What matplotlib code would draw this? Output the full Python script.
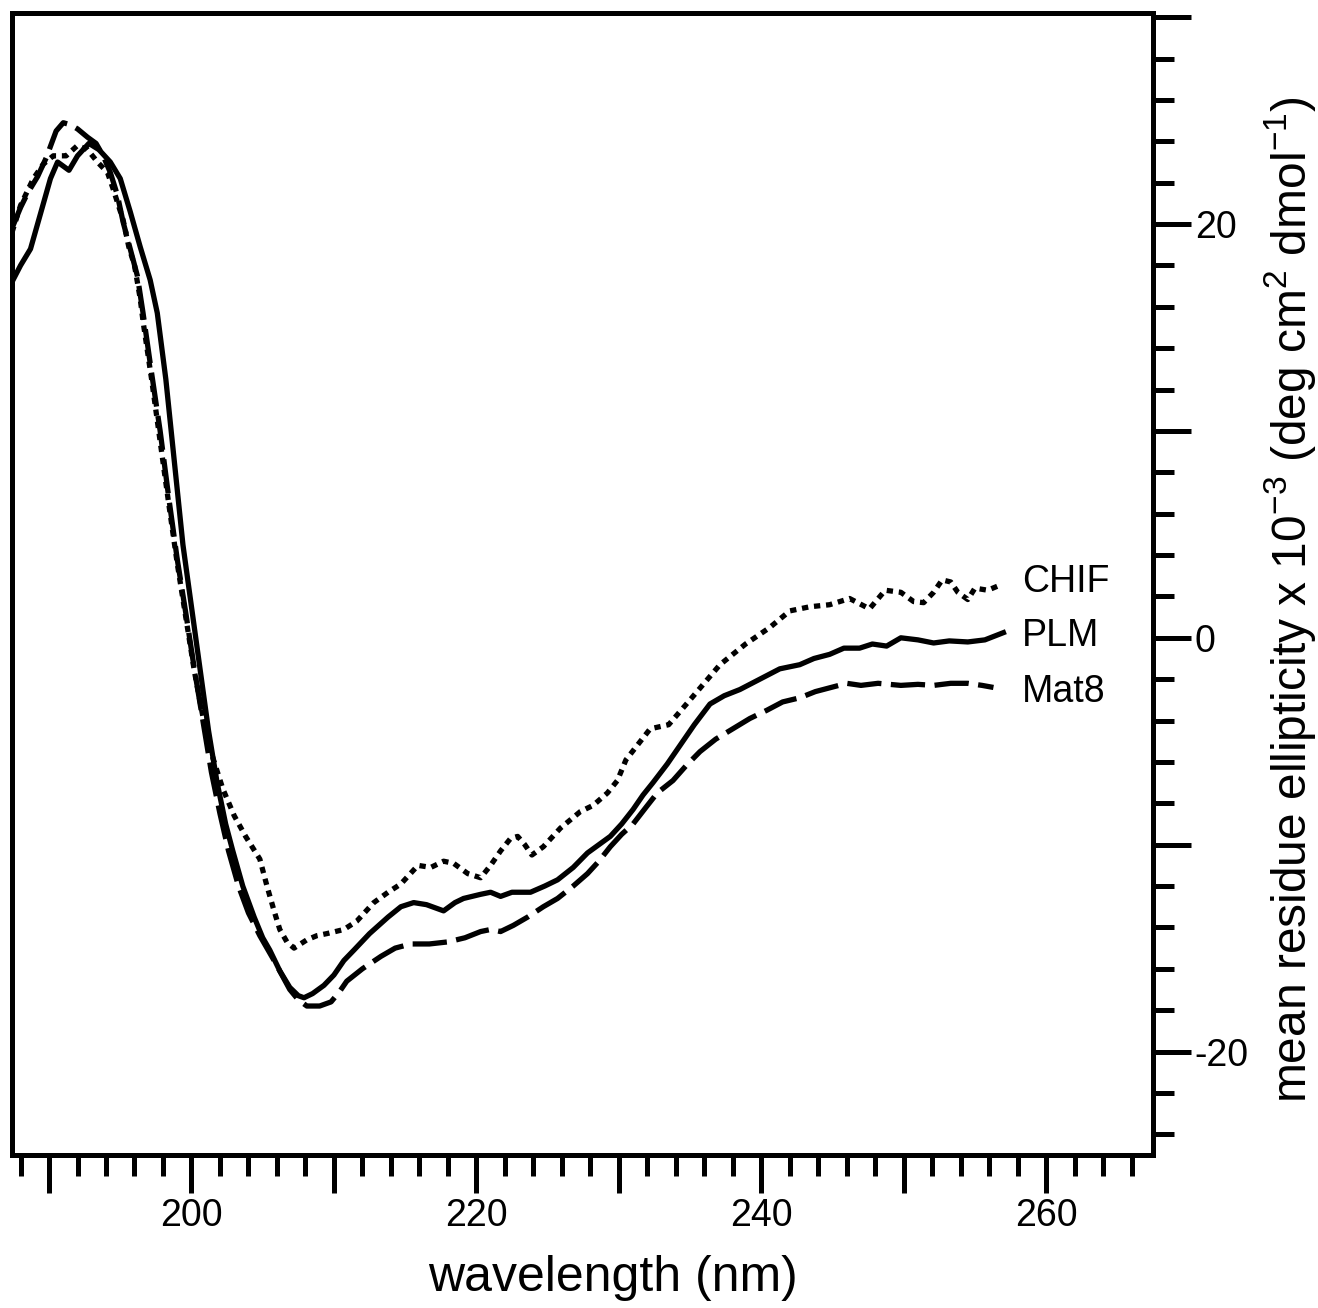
import matplotlib.pyplot as plt
from matplotlib.ticker import MultipleLocator, FuncFormatter
import numpy as np

plt.rcParams['font.family'] = ['Liberation Sans', 'DejaVu Sans']
plt.rcParams['mathtext.fontset'] = 'custom'
plt.rcParams['mathtext.rm'] = 'Liberation Sans'

# ---------- data (x1e-3 deg cm2 dmol-1) ----------
plm_wl = [187.4, 188.0, 188.7, 189.4, 190.1, 190.6, 191.0, 191.4, 192.0, 192.8,
          193.5, 194.3, 195.0, 195.7, 196.4, 197.1, 197.6, 198.2, 198.8, 199.4,
          200.0, 200.6, 201.2, 201.8, 202.4, 202.9, 203.6, 204.4, 205.0, 205.5,
          206.2, 206.9, 207.5, 207.9, 208.5, 209.3, 210.0, 210.7, 211.4, 212.5,
          213.8, 214.7, 215.6, 216.5, 217.7, 218.5, 219.1, 220.3, 221.0, 221.7,
          222.5, 223.8, 224.8, 225.7, 226.8, 227.8, 228.6, 229.4, 230.2, 231.0,
          231.7, 232.4, 233.4, 234.3, 235.3, 236.4, 237.4, 238.5, 239.9, 241.3,
          242.7, 243.7, 244.8, 245.8, 246.9, 247.8, 248.8, 249.8, 251.0, 252.1,
          253.2, 254.5, 255.7, 257.0]
plm = [17.2, 18.0, 18.8, 20.5, 22.2, 23.0, 22.8, 22.6, 23.3, 23.9,
       23.6, 23.0, 22.2, 20.6, 18.9, 17.3, 15.7, 12.5, 8.5, 4.5,
       1.5, -1.5, -4.5, -7.0, -9.0, -10.3, -12.0, -13.5, -14.5, -15.1,
       -16.1, -16.9, -17.3, -17.4, -17.2, -16.8, -16.3, -15.6, -15.1, -14.3,
       -13.5, -13.0, -12.8, -12.9, -13.2, -12.8, -12.6, -12.4, -12.3, -12.5,
       -12.3, -12.3, -12.0, -11.7, -11.1, -10.4, -10.0, -9.6, -9.0, -8.3,
       -7.6, -7.0, -6.1, -5.2, -4.2, -3.2, -2.8, -2.5, -2.0, -1.5,
       -1.3, -1.0, -0.8, -0.5, -0.5, -0.3, -0.4, 0.0, -0.1, -0.25,
       -0.15, -0.2, -0.1, 0.25]

mat8_wl = [187.4, 188.0, 188.5, 189.2, 189.8, 190.5, 191.0, 191.5, 192.0, 192.7,
           193.3, 193.8, 194.3, 194.8, 195.2, 195.7, 196.2, 196.6, 197.2, 197.8,
           198.4, 199.0, 199.6, 200.2, 200.8, 201.4, 202.0, 202.6, 203.3, 204.0,
           204.8, 205.8, 206.9, 207.5, 208.1, 209.0, 209.8, 210.4, 210.9, 212.0,
           213.3, 214.3, 215.4, 216.7, 218.0, 219.2, 220.3, 221.0, 221.7, 222.6,
           223.6, 224.7, 225.7, 226.8, 227.8, 228.6, 229.4, 230.2, 231.0, 231.9,
           232.7, 233.8, 234.7, 235.7, 236.8, 238.0, 239.2, 240.4, 241.5, 242.7,
           243.8, 244.9, 246.0, 247.0, 248.2, 249.8, 251.0, 252.1, 253.3, 254.5,
           255.5, 256.3]
mat8 = [19.8, 20.8, 21.5, 22.3, 23.2, 24.5, 24.9, 24.8, 24.6, 24.2,
        23.9, 23.3, 22.5, 21.4, 20.1, 18.8, 17.5, 15.7, 12.8, 10.0,
        6.8, 3.8, 1.2, -1.5, -4.0, -6.5, -8.5, -10.3, -12.0, -13.3,
        -14.4, -15.6, -17.0, -17.5, -17.8, -17.8, -17.6, -17.1, -16.6, -16.0,
        -15.4, -15.0, -14.8, -14.8, -14.7, -14.5, -14.2, -14.1, -14.2, -13.9,
        -13.5, -13.0, -12.6, -12.0, -11.4, -10.8, -10.1, -9.5, -9.0, -8.2,
        -7.5, -6.9, -6.2, -5.5, -4.9, -4.4, -3.9, -3.5, -3.1, -2.9,
        -2.6, -2.4, -2.2, -2.3, -2.2, -2.3, -2.25, -2.3, -2.2, -2.2,
        -2.3, -2.4]

chif_wl = [187.4, 188.0, 188.9, 189.6, 190.3, 191.2, 192.0, 192.7, 193.4, 194.1,
           194.5, 195.2, 195.6, 196.0, 196.4, 196.6, 197.2, 197.8, 198.4, 199.0,
           199.6, 200.2, 200.8, 201.5, 202.2, 203.0, 203.8, 204.8, 205.3, 205.8,
           206.2, 206.7, 207.2, 208.1, 208.8, 209.5, 210.7, 211.6, 212.8, 213.8,
           214.7, 215.9, 216.8, 217.7, 218.4, 219.4, 220.3, 221.0, 221.7, 222.4,
           222.9, 223.4, 223.9, 224.7, 225.9, 227.3, 228.2, 229.2, 229.9, 230.5,
           232.2, 233.5, 235.0, 237.1, 238.9, 240.6, 242.0, 243.4, 244.8, 246.2,
           247.6, 248.7, 249.8, 250.7, 251.4, 252.1, 252.7, 253.3, 253.8, 254.5,
           255.0, 255.9, 256.6]
chif = [19.6, 20.9, 22.2, 22.9, 23.3, 23.3, 23.8, 23.6, 23.0, 22.5,
        21.7, 20.2, 18.9, 18.0, 16.4, 15.3, 12.5, 9.5, 6.5, 3.6,
        1.0, -1.6, -3.8, -5.8, -7.3, -8.6, -9.6, -10.7, -12.0, -13.2,
        -14.1, -14.7, -15.0, -14.6, -14.4, -14.3, -14.1, -13.7, -12.8, -12.3,
        -11.9, -11.0, -11.1, -10.8, -10.9, -11.4, -11.6, -11.0, -10.3, -9.7,
        -9.6, -10.0, -10.5, -10.1, -9.2, -8.4, -8.1, -7.5, -6.9, -5.9,
        -4.4, -4.2, -3.0, -1.3, -0.3, 0.5, 1.3, 1.5, 1.6, 1.9,
        1.4, 2.3, 2.2, 1.75, 1.7, 2.2, 2.8, 2.7, 2.2, 1.85,
        2.4, 2.3, 2.5]

series_names = ['CHIF', 'PLM', 'Mat8']
label_y = [2.7, 0.1, -2.6]

x_labelled = [200, 220, 240, 260]
y_labelled = [-20, 0, 20]

fig = plt.figure(figsize=(13.18, 13.08), dpi=100)
ax = fig.add_axes([0.0091, 0.117, 0.8657, 0.873])

lw = 3.8
ax.plot(chif_wl, chif, color='black', lw=lw, linestyle=(0, (1.2, 1.1)),
        dash_capstyle='butt')
ax.plot(plm_wl, plm, color='black', lw=lw, linestyle='-')
ax.plot(mat8_wl, mat8, color='black', lw=lw, linestyle=(0, (6.5, 1.8)),
        dash_capstyle='butt')

for name, yy in zip(series_names, label_y):
    ax.text(258.3, yy, name, fontsize=27, va='center', ha='left')

ax.set_xlim(187.4, 267.5)
ax.set_ylim(-25.0, 30.2)

# ticks: bottom and right only, long every 10, short every 2
ax.xaxis.set_major_locator(MultipleLocator(10))
ax.xaxis.set_minor_locator(MultipleLocator(2))
ax.yaxis.set_major_locator(MultipleLocator(10))
ax.yaxis.set_minor_locator(MultipleLocator(2))
ax.xaxis.set_major_formatter(FuncFormatter(
    lambda v, p: '%d' % round(v) if round(v) in x_labelled else ''))
ax.yaxis.set_major_formatter(FuncFormatter(
    lambda v, p: '%d' % round(v) if round(v) in y_labelled else ''))

ax.yaxis.tick_right()
ax.yaxis.set_label_position('right')
ax.tick_params(axis='both', which='major', direction='out', length=27,
               width=3.6, labelsize=27)
ax.tick_params(axis='both', which='minor', direction='out', length=15,
               width=3.6)
ax.tick_params(axis='x', which='major', pad=4)
ax.tick_params(axis='y', which='major', pad=3)

for sp in ax.spines.values():
    sp.set_linewidth(3.6)

ax.set_xlabel('wavelength (nm)', fontsize=36)
ax.xaxis.set_label_coords(0.527, -0.088)
ax.set_ylabel(r'mean residue ellipticity x 10$^{\mathregular{-3}}$ (deg cm$^{\mathregular{2}}$ dmol$^{\mathregular{-1}}$)',
              fontsize=34.5, rotation=90)
ax.yaxis.label.set_verticalalignment('center')
ax.yaxis.set_label_coords(1.12, 0.486)

fig.savefig('out.png', dpi=100)
